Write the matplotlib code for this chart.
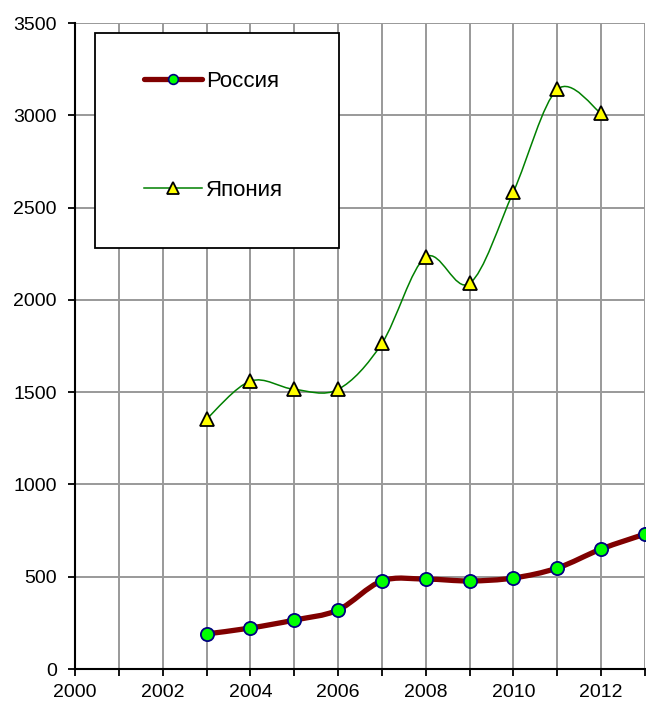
import matplotlib
matplotlib.use("Agg")
import matplotlib.pyplot as plt
import numpy as np
from matplotlib.path import Path
from matplotlib.patches import PathPatch, Rectangle
from matplotlib.lines import Line2D

plt.rcParams['font.family'] = ['Liberation Sans', 'DejaVu Sans']

years_russia = [2003, 2004, 2005, 2006, 2007, 2008, 2009, 2010, 2011, 2012, 2013]
russia = [190, 222, 265, 320, 477, 487, 477, 493, 547, 650, 731]
years_japan = [2003, 2004, 2005, 2006, 2007, 2008, 2009, 2010, 2011, 2012]
japan = [1354, 1560, 1515, 1515, 1764, 2232, 2089, 2586, 3140, 3010]
labels = ["Россия", "Япония"]
x_ticks = list(range(2000, 2014))
x_ticklabels = [str(y) if y % 2 == 0 else "" for y in x_ticks]
y_ticks = list(range(0, 3501, 500))

W, H = 646, 703
fig = plt.figure(figsize=(W / 100, H / 100), dpi=100)
ax = fig.add_axes([75 / W, 1 - 669 / H, 570 / W, 646 / H])


def smooth_path(xs, ys):
    p = np.column_stack([xs, ys]).astype(float)
    n = len(p)
    verts = [p[0]]
    codes = [Path.MOVETO]
    for i in range(n - 1):
        p0 = p[i - 1] if i > 0 else p[i]
        p1 = p[i]
        p2 = p[i + 1]
        p3 = p[i + 2] if i + 2 < n else p[i + 1]
        c1 = p1 + (p2 - p0) / 6.0
        c2 = p2 - (p3 - p1) / 6.0
        verts += [c1, c2, p2]
        codes += [Path.CURVE4] * 3
    return Path(verts, codes)


ax.set_xlim(2000, 2013)
ax.set_ylim(0, 3500)
ax.set_xticks(x_ticks)
ax.set_xticklabels(x_ticklabels)
ax.set_yticks(y_ticks)
ax.grid(True, color='#999999', linewidth=1.4)
ax.set_axisbelow(True)
for s in ['top', 'right']:
    ax.spines[s].set_visible(False)
for s in ['left', 'bottom']:
    ax.spines[s].set_linewidth(1.5)
    ax.spines[s].set_color('black')
ax.tick_params(axis='both', direction='out', length=5, width=1.3, labelsize=14)
ax.tick_params(axis='y', pad=8)
ax.tick_params(axis='x', pad=6)

rus_color = '#800000'
jap_color = '#008000'

ax.add_patch(PathPatch(smooth_path(years_russia, russia), fill=False,
                       edgecolor=rus_color, linewidth=3.8, capstyle='round',
                       joinstyle='round', zorder=3, clip_on=False))
ax.plot(years_russia, russia, linestyle='none', marker='o', markersize=9.5,
        markerfacecolor='#00FF00', markeredgecolor='#000080', markeredgewidth=1.3,
        zorder=4, clip_on=False)

ax.add_patch(PathPatch(smooth_path(years_japan, japan), fill=False,
                       edgecolor=jap_color, linewidth=1.1, zorder=3))
ax.plot(years_japan, japan, linestyle='none', marker='^', markersize=9.5,
        markerfacecolor='#FFFF00', markeredgecolor='black', markeredgewidth=1.3,
        zorder=4, clip_on=False)

# legend frame
fig.patches.append(Rectangle((95 / W, 1 - 248 / H), 244 / W, 215 / H,
                             transform=fig.transFigure, facecolor='white',
                             edgecolor='black', linewidth=1.3, zorder=5))

h1 = Line2D([], [], color=rus_color, linewidth=3.8, solid_capstyle='round',
            marker='o', markersize=7, markerfacecolor='#00FF00',
            markeredgecolor='#000080', markeredgewidth=1.2)
h2 = Line2D([], [], color=jap_color, linewidth=1.1, marker='^', markersize=8,
            markerfacecolor='#FFFF00', markeredgecolor='black', markeredgewidth=1.3)
leg = fig.legend([h1, h2], labels, loc='upper left',
                 bbox_to_anchor=(144 / W, 1 - 71 / H), frameon=False,
                 fontsize=16, handlelength=2.6, handletextpad=0.2,
                 labelspacing=3.95, borderpad=0, numpoints=1,
                 borderaxespad=0)
leg.set_zorder(6)

fig.savefig("out.png", dpi=100)
